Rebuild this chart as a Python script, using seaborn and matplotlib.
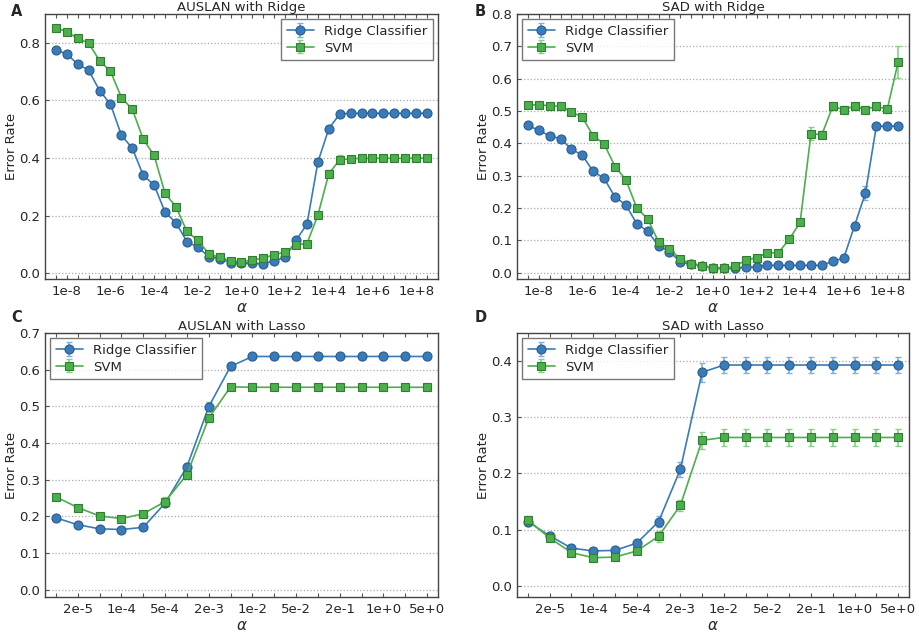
import numpy as np
import pandas as pd
import matplotlib
matplotlib.use("Agg")
import matplotlib.pyplot as plt
import seaborn as sns
from matplotlib.ticker import FixedLocator

# ---------------- data ----------------
ridge_alpha_labels = ["1e-8", "1e-6", "1e-4", "1e-2", "1e+0", "1e+2", "1e+4", "1e+6", "1e+8"]
lasso_alpha_labels = ["2e-5", "1e-4", "5e-4", "2e-3", "1e-2", "5e-2", "2e-1", "1e+0", "5e+0"]

auslan_ridge_rc = [0.775, 0.761, 0.726, 0.705, 0.634, 0.587, 0.479, 0.434, 0.340, 0.306,
                   0.212, 0.175, 0.110, 0.090, 0.058, 0.051, 0.037, 0.036, 0.035, 0.032,
                   0.044, 0.055, 0.114, 0.171, 0.386, 0.502, 0.553, 0.555, 0.555, 0.555,
                   0.555, 0.555, 0.555, 0.555, 0.555]
auslan_ridge_svm = [0.852, 0.839, 0.815, 0.799, 0.738, 0.701, 0.610, 0.569, 0.465, 0.409,
                    0.277, 0.231, 0.145, 0.114, 0.068, 0.055, 0.043, 0.040, 0.046, 0.052,
                    0.065, 0.073, 0.099, 0.103, 0.202, 0.346, 0.394, 0.397, 0.399, 0.399,
                    0.399, 0.399, 0.399, 0.399, 0.400]
auslan_ridge_rc_err = [0.005] * 24 + [0.008, 0.008, 0.006] + [0.005] * 8
auslan_ridge_svm_err = [0.005] * 24 + [0.008, 0.012, 0.015, 0.008] + [0.006] * 7

sad_ridge_rc = [0.455, 0.440, 0.423, 0.414, 0.382, 0.363, 0.313, 0.291, 0.234, 0.209,
                0.151, 0.128, 0.082, 0.065, 0.033, 0.026, 0.020, 0.015, 0.014, 0.015,
                0.016, 0.018, 0.022, 0.022, 0.022, 0.022, 0.022, 0.022, 0.035, 0.044,
                0.145, 0.246, 0.453, 0.453, 0.453]
sad_ridge_svm = [0.519, 0.519, 0.516, 0.514, 0.498, 0.480, 0.423, 0.398, 0.328, 0.287,
                 0.200, 0.166, 0.095, 0.074, 0.041, 0.027, 0.021, 0.014, 0.014, 0.019,
                 0.038, 0.046, 0.061, 0.061, 0.103, 0.155, 0.429, 0.427, 0.514, 0.504,
                 0.515, 0.504, 0.515, 0.505, 0.651]
sad_ridge_rc_err = [0.005] * 30 + [0.010, 0.022, 0.008, 0.006, 0.006]
sad_ridge_svm_err = [0.005] * 26 + [0.020, 0.012, 0.010, 0.010, 0.010, 0.010, 0.010, 0.010, 0.050]

auslan_lasso_rc = [0.196, 0.177, 0.166, 0.164, 0.170, 0.236, 0.335, 0.499, 0.609,
                   0.636, 0.636, 0.636, 0.636, 0.636, 0.636, 0.636, 0.636, 0.636]
auslan_lasso_svm = [0.253, 0.224, 0.201, 0.194, 0.207, 0.240, 0.314, 0.468, 0.553,
                    0.552, 0.552, 0.552, 0.552, 0.552, 0.552, 0.552, 0.552, 0.552]
auslan_lasso_rc_err = [0.005, 0.005, 0.005, 0.005, 0.005, 0.008, 0.010, 0.012, 0.010,
                       0.010, 0.010, 0.010, 0.010, 0.010, 0.010, 0.010, 0.010, 0.010]
auslan_lasso_svm_err = [0.006, 0.006, 0.006, 0.006, 0.006, 0.012, 0.010, 0.010, 0.006,
                        0.006, 0.006, 0.006, 0.006, 0.006, 0.006, 0.006, 0.006, 0.006]

sad_lasso_rc = [0.114, 0.089, 0.067, 0.062, 0.063, 0.076, 0.114, 0.207, 0.380,
                0.393, 0.393, 0.393, 0.393, 0.393, 0.393, 0.393, 0.393, 0.393]
sad_lasso_svm = [0.117, 0.085, 0.059, 0.050, 0.051, 0.062, 0.088, 0.143, 0.259,
                 0.264, 0.264, 0.264, 0.264, 0.264, 0.264, 0.264, 0.264, 0.264]
sad_lasso_rc_err = [0.008, 0.006, 0.005, 0.005, 0.005, 0.006, 0.010, 0.013, 0.017,
                    0.014, 0.014, 0.014, 0.014, 0.014, 0.014, 0.014, 0.014, 0.014]
sad_lasso_svm_err = [0.008, 0.006, 0.005, 0.005, 0.005, 0.006, 0.010, 0.010, 0.015,
                     0.015, 0.015, 0.015, 0.015, 0.015, 0.015, 0.015, 0.015, 0.015]

# ---------------- style ----------------
sns.set_style("white")
plt.rcParams["font.family"] = ["DejaVu Sans"]
plt.rcParams["mathtext.fontset"] = "dejavusans"

BLUE = "#3a7bb8"
BLUE_E = "#285d92"
GREEN = "#4cae4c"
GREEN_E = "#2f7f2f"

fig = plt.figure(figsize=(9.2, 6.37), dpi=100)

panels = [
    dict(rect=[45/920, 1-279/637, 393/920, 265/637], letter="A", lxy=(11, 4), title="AUSLAN with Ridge",
         rc=auslan_ridge_rc, svm=auslan_ridge_svm, rce=auslan_ridge_rc_err, svme=auslan_ridge_svm_err,
         labels=ridge_alpha_labels, pad=1.0, ylim=(-0.02, 0.9), yticks=np.arange(0, 0.81, 0.2),
         loc="upper right"),
    dict(rect=[517/920, 1-279/637, 392/920, 265/637], letter="B", lxy=(475, 4), title="SAD with Ridge",
         rc=sad_ridge_rc, svm=sad_ridge_svm, rce=sad_ridge_rc_err, svme=sad_ridge_svm_err,
         labels=ridge_alpha_labels, pad=1.0, ylim=(-0.02, 0.8), yticks=np.arange(0, 0.81, 0.1),
         loc="upper left"),
    dict(rect=[45/920, 1-597/637, 393/920, 264/637], letter="C", lxy=(11, 310), title="AUSLAN with Lasso",
         rc=auslan_lasso_rc, svm=auslan_lasso_svm, rce=auslan_lasso_rc_err, svme=auslan_lasso_svm_err,
         labels=lasso_alpha_labels, pad=0.5, ylim=(-0.02, 0.7), yticks=np.arange(0, 0.71, 0.1),
         loc="upper left"),
    dict(rect=[517/920, 1-597/637, 392/920, 264/637], letter="D", lxy=(475, 310), title="SAD with Lasso",
         rc=sad_lasso_rc, svm=sad_lasso_svm, rce=sad_lasso_rc_err, svme=sad_lasso_svm_err,
         labels=lasso_alpha_labels, pad=0.5, ylim=(-0.02, 0.45), yticks=np.arange(0, 0.41, 0.1),
         loc="upper left"),
]

for p in panels:
    ax = fig.add_axes(p["rect"])
    n = len(p["rc"])
    x = np.arange(n)
    df = pd.DataFrame({"x": x, "rc": p["rc"], "svm": p["svm"]})

    eb1 = ax.errorbar(x, p["rc"], yerr=p["rce"], fmt="none", ecolor="#7fb0dc",
                      elinewidth=1.2, capsize=2, capthick=1.0, zorder=2)
    eb2 = ax.errorbar(x, p["svm"], yerr=p["svme"], fmt="none", ecolor="#86cf86",
                      elinewidth=1.2, capsize=2, capthick=1.0, zorder=2)
    sns.lineplot(data=df, x="x", y="rc", ax=ax, color=BLUE, marker="o", markersize=6.5,
                 markeredgecolor=BLUE_E, markeredgewidth=0.8, linewidth=1.2, zorder=3)
    sns.lineplot(data=df, x="x", y="svm", ax=ax, color=GREEN, marker="s", markersize=6.3,
                 markeredgecolor=GREEN_E, markeredgewidth=0.8, linewidth=1.2, zorder=3)
    lines = ax.get_lines()
    l_rc, l_svm = lines[-2], lines[-1]

    ax.set_xlim(-p["pad"], n - 1 + p["pad"])
    ax.set_ylim(*p["ylim"])
    major = np.arange(1, n, 4) if n > 20 else np.arange(1, n, 2)
    ax.xaxis.set_major_locator(FixedLocator(major))
    ax.xaxis.set_minor_locator(FixedLocator(x))
    ax.set_xticklabels(p["labels"])
    ax.set_yticks(p["yticks"])
    ax.set_yticklabels([f"{v:.1f}" for v in p["yticks"]])
    ax.tick_params(axis="x", which="both", direction="in", top=True, bottom=True,
                   length=3, width=0.8, color="#555555", labelsize=9.5, pad=4)
    ax.tick_params(axis="y", which="both", direction="in", left=True, right=False,
                   length=3, width=0.8, color="#555555", labelsize=9.5)
    ax.grid(axis="y", linestyle=":", color="#aaaaaa", linewidth=0.9)
    ax.grid(axis="x", visible=False)
    for s in ax.spines.values():
        s.set_color("#444444")
        s.set_linewidth(1.0)
    ax.set_xlabel(r"$\alpha$", fontsize=11, labelpad=2)
    ax.set_ylabel("Error Rate", fontsize=9.5, labelpad=1)
    ax.set_title(p["title"], fontsize=9.5, pad=2)

    leg = ax.legend([(eb1, l_rc), (eb2, l_svm)], ["Ridge Classifier", "SVM"], loc=p["loc"],
                    fontsize=9.5, frameon=True, fancybox=False, edgecolor="#555555",
                    handlelength=2.1, borderpad=0.4, labelspacing=0.3, handletextpad=0.75,
                    borderaxespad=0.4)
    leg.get_frame().set_linewidth(1.0)

    fig.text(p["lxy"][0] / 920, 1 - p["lxy"][1] / 637, p["letter"], fontsize=10.5,
             fontweight="bold", va="top", ha="left")

fig.savefig("out.png", dpi=100)
